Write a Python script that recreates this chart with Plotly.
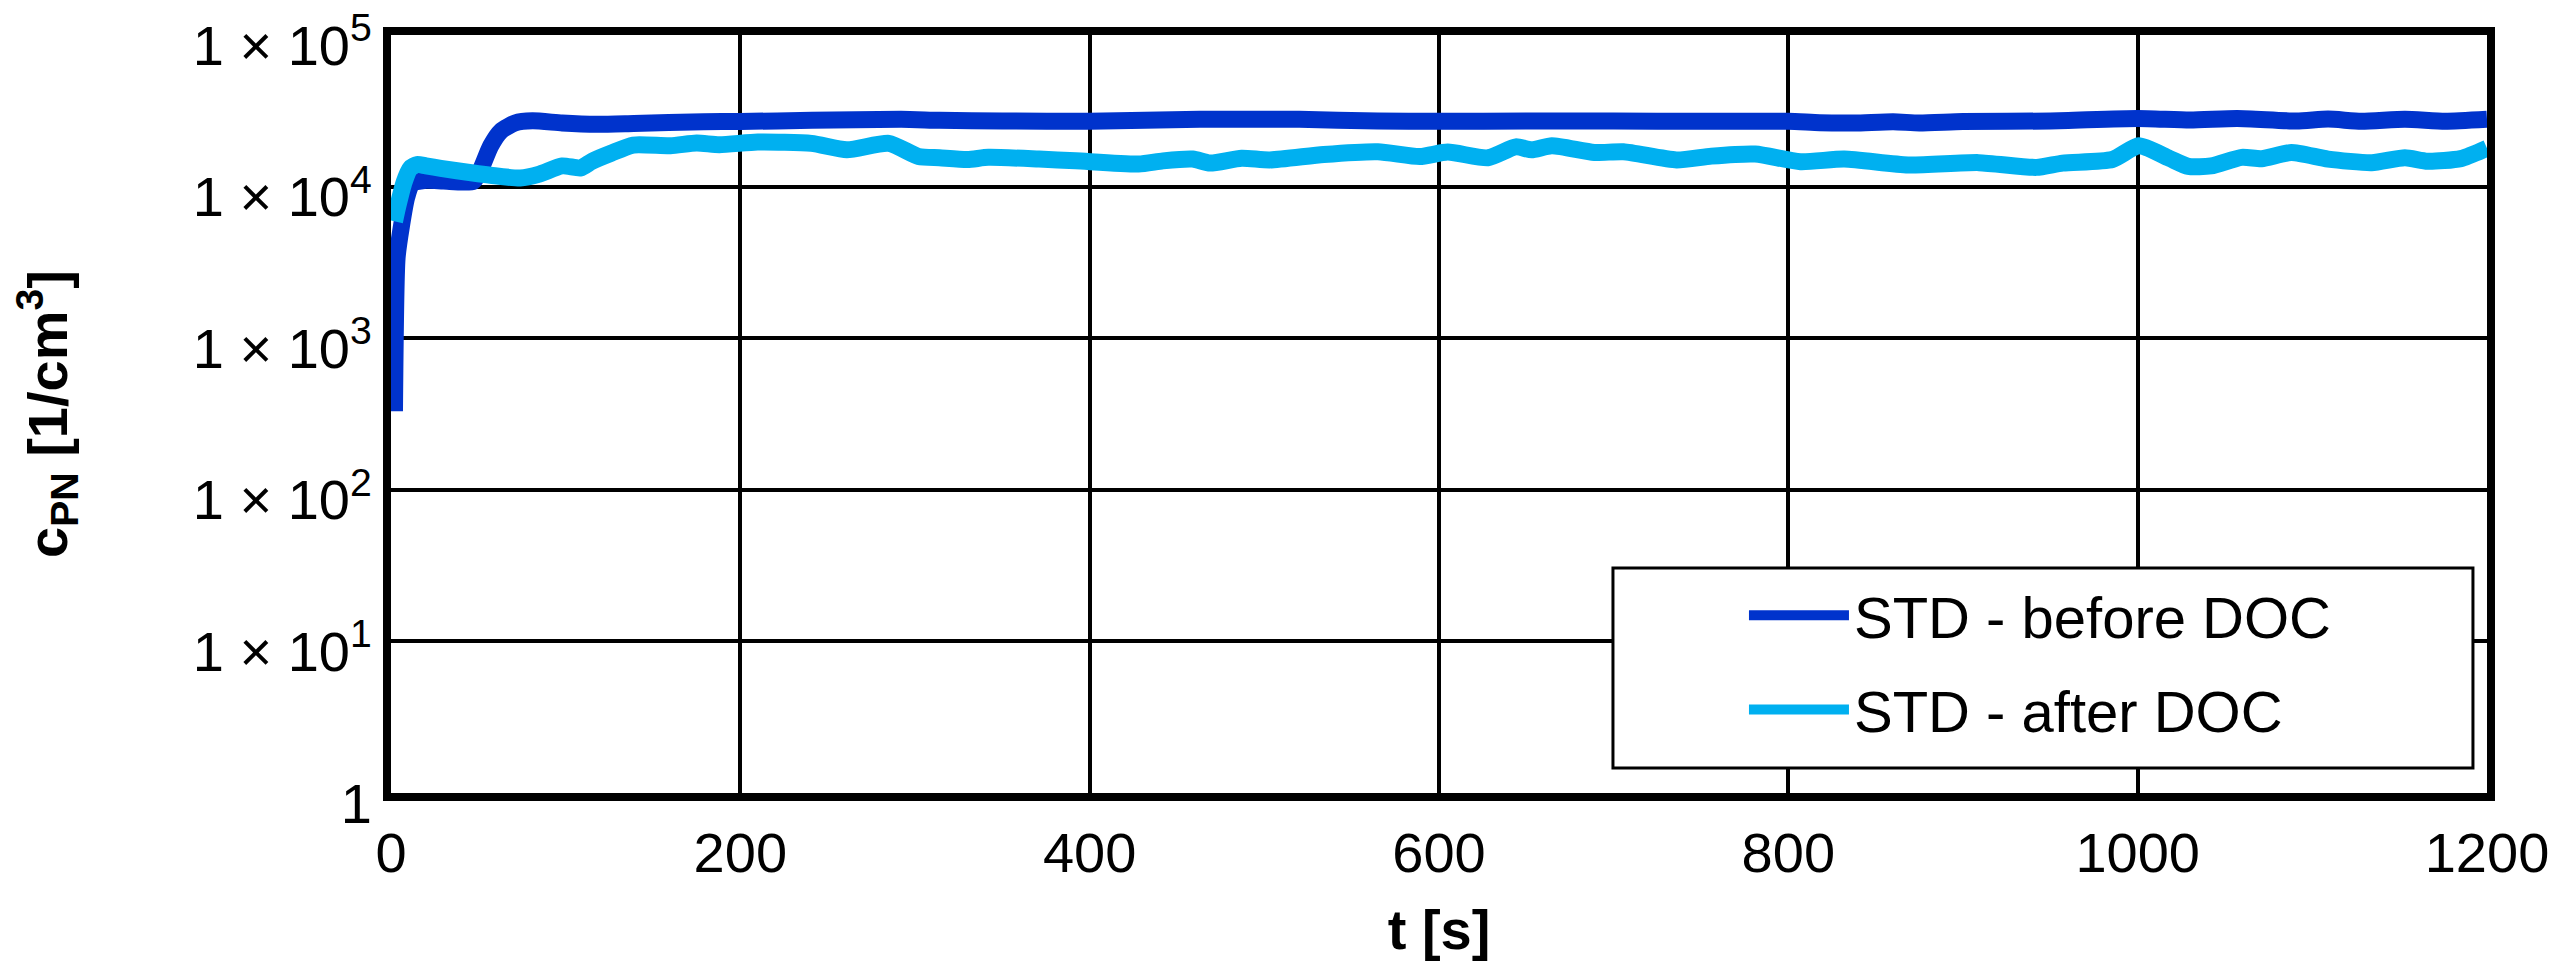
import plotly.graph_objects as go

# ---- data ----
t_before = [2, 3.5, 6, 9, 12, 20, 30, 47, 51, 57, 63, 71, 81, 98, 118, 139, 179, 200,
            241, 292, 314, 350, 400, 463, 520, 565, 600, 650, 700, 750, 800, 818, 838,
            860, 875, 900, 950, 1000, 1030, 1057, 1091, 1109, 1128, 1153, 1176, 1200]
c_before = [330, 3400, 5500, 8500, 10500, 11000, 10900, 10800, 12700, 18500, 23300, 26300,
            27200, 26300, 25800, 26100, 26800, 26900, 27400, 27800, 27400, 27100, 27000,
            27800, 27800, 27100, 27000, 27100, 27100, 27000, 27000, 26400, 26300, 26800,
            26300, 26900, 27100, 28200, 27500, 28200, 27100, 27900, 27000, 27800, 27000, 27800]

t_after = [2, 4, 7.5, 11, 15, 20, 28.5, 47, 57, 74, 85, 98, 108.6, 115, 126, 138.7, 160,
           175, 188, 210, 240.7, 261, 285, 302, 314, 330, 342, 371, 392, 428, 442, 459,
           469, 487, 503, 534, 565, 589, 605, 628, 644, 653, 664.6, 689, 705.6, 736, 756,
           781, 807, 832, 868.6, 909, 942, 957, 985.5, 1000.7, 1018, 1029, 1042, 1059.6,
           1071, 1088, 1109, 1134, 1153, 1166, 1185, 1200]
c_after = [5900, 7500, 10700, 13200, 14000, 13700, 13200, 12300, 11900, 11400, 12100, 13700,
           13300, 14700, 16600, 18800, 18600, 19400, 18900, 19700, 19300, 17500, 19300,
           15800, 15500, 15100, 15600, 15200, 14800, 14100, 14800, 15200, 14300, 15400,
           15000, 16300, 17000, 15800, 16900, 15500, 18300, 17500, 18600, 16800, 17000,
           15000, 15900, 16400, 14600, 15200, 13900, 14400, 13400, 14300, 15100, 18600,
           15400, 13600, 13700, 15600, 15300, 16800, 15200, 14400, 15500, 14700, 15300, 17900]

series_names = ["STD - before DOC", "STD - after DOC"]
series_colors = ["#0033CC", "#00B0F0"]

x_ticks = [0, 200, 400, 600, 800, 1000, 1200]
y_ticks = [1, 10, 100, 1000, 10000, 100000]
y_ticktext = ["1", "1 × 10<sup>1</sup>", "1 × 10<sup>2</sup>", "1 × 10<sup>3</sup>",
              "1 × 10<sup>4</sup>", "1 × 10<sup>5</sup>"]

FONT = "Arial, 'Liberation Sans', sans-serif"

fig = go.Figure()
for i, (tx, cy) in enumerate([(t_before, c_before), (t_after, c_after)]):
    fig.add_trace(go.Scatter(
        x=tx, y=cy, mode="lines", name=series_names[i],
        line=dict(color=series_colors[i], width=17, shape="spline", smoothing=0.6),
        legendgroup=f"g{i}",
    ))

fig.update_layout(
    width=2561, height=979,
    margin=dict(l=383, r=82, t=27, b=194, autoexpand=False),
    plot_bgcolor="white", paper_bgcolor="white",
    font=dict(family=FONT, size=56, color="black"),
    showlegend=True,
    legend=dict(
        x=0.6455, y=0.2929, xanchor="left", yanchor="top",
        bgcolor="rgba(0,0,0,0)", borderwidth=0,
        font=dict(family=FONT, size=58, color="black"),
        itemwidth=100, tracegroupgap=16, traceorder="grouped",
    ),
    shapes=[dict(type="rect", xref="paper", yref="paper",
                 x0=0.5830, x1=0.9933, y0=0.0330, y1=0.2968,
                 line=dict(color="black", width=3), fillcolor="white", layer="above")],
)

fig.update_xaxes(
    range=[0, 1200], tickvals=x_ticks, ticks="", ticklabelstandoff=4,
    showgrid=True, gridcolor="black", gridwidth=4, zeroline=False,
    showline=True, linecolor="black", linewidth=8, mirror=True,
    tickfont=dict(family=FONT, size=56), ticklabeloverflow="allow", automargin=False,
    title=dict(text="<b>t [s]</b>", font=dict(family=FONT, size=56), standoff=30),
)
fig.update_yaxes(
    type="log", range=[-0.0005, 5.0005], tickvals=y_ticks, ticktext=y_ticktext,
    ticks="outside", ticklen=0, tickcolor="black",
    ticklabelstandoff=0, ticklabelshift=10, ticklabeloverflow="allow", automargin=False,
    showgrid=True, gridcolor="black", gridwidth=4, zeroline=False,
    showline=True, linecolor="black", linewidth=8, mirror=True,
    tickfont=dict(family=FONT, size=56),
    title=dict(text="<b>c<sub>PN</sub> [1/cm<sup>3</sup>]</b>",
               font=dict(family=FONT, size=56), standoff=158),
)

fig.write_html("out.html")
